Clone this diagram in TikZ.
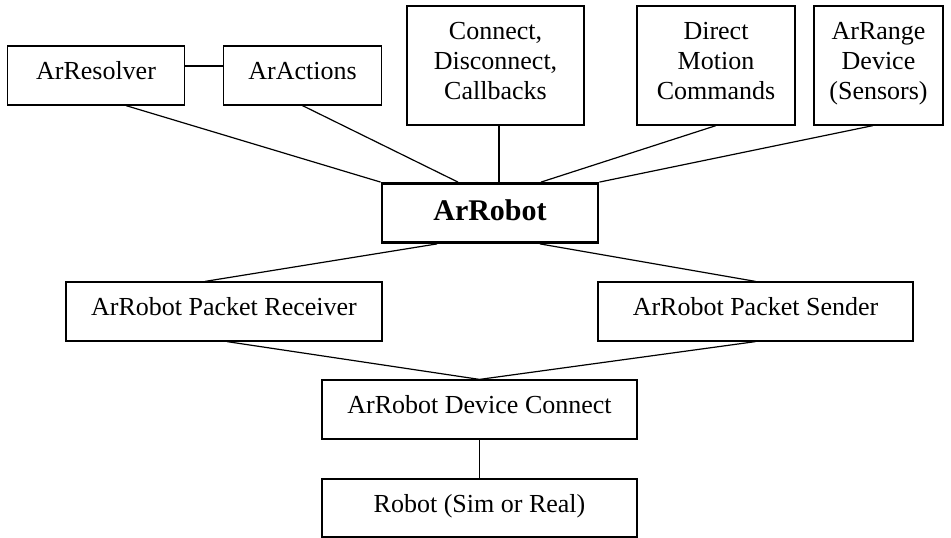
\documentclass[tikz,border=0pt]{standalone}
\usepackage{fontspec}
\setmainfont{Liberation Serif}
% three centred lines, baseline on the last one
\newcommand{\threelines}[3]{\begin{tabular}[b]{@{}c@{}}#1\\#2\\#3\end{tabular}}
\begin{document}
\begin{tikzpicture}[x=1pt,y=-1pt,
  box/.style={draw, line width=1.2pt, inner sep=0pt, align=center,
    font=\fontsize{26}{30}\selectfont},
  onerow/.style={text height=17pt, text depth=9pt},
  threerow/.style={text height=78pt, text depth=11pt},
  link/.style={line width=1.2pt}]
\useasboundingbox (0,0) rectangle (951,538);

% top row
\node[box, onerow, minimum width=177pt, minimum height=59pt] (resolver) at (96,75.5) {ArResolver};
\node[box, onerow, minimum width=158pt, minimum height=59pt] (actions) at (302.5,75.5) {ArActions};
\node[box, threerow, minimum width=177pt, minimum height=119pt] (connect) at (495.5,65.5) {\threelines{Connect,}{Disconnect,}{Callbacks}};
\node[box, threerow, minimum width=158pt, minimum height=119pt] (motion) at (716,65.5) {\threelines{Direct}{Motion}{Commands}};
\node[box, threerow, minimum width=129pt, minimum height=119pt] (range) at (878.5,65.5) {\threelines{ArRange}{Device}{(Sensors)}};

% core
\node[box, line width=2.8pt, minimum width=216pt, minimum height=59pt,
  font=\fontsize{30}{34}\selectfont\bfseries, text height=20pt, text depth=5pt] (robot) at (490,213) {ArRobot};

% packet layer
\node[box, onerow, minimum width=316pt, minimum height=59pt] (receiver) at (224,311.5) {ArRobot Packet Receiver};
\node[box, onerow, minimum width=315pt, minimum height=59pt] (sender) at (755.5,311.5) {ArRobot Packet Sender};

% device layer
\node[box, onerow, minimum width=315pt, minimum height=59pt] (device) at (479.5,409.5) {ArRobot Device Connect};
\node[box, onerow, minimum width=315pt, minimum height=58pt] (real) at (479.5,508) {Robot (Sim or Real)};

% connectors
\draw[link] ([yshift=9.5pt]resolver.east) -- ([yshift=9.5pt]actions.west);
\draw[link] ([xshift=30pt]resolver.south) -- (robot.north west);
\draw[link] (actions.south) -- ([xshift=-32pt]robot.north);
\draw[link] ([xshift=3.5pt]connect.south) -- ([xshift=9pt]robot.north);
\draw[link] (motion.south) -- ([xshift=51pt]robot.north);
\draw[link] ([xshift=-5.5pt]range.south) -- (robot.north east);
\draw[link] ([xshift=-53pt]robot.south) -- ([xshift=-19pt]receiver.north);
\draw[link] ([xshift=50pt]robot.south) -- (sender.north);
\draw[link] ([xshift=3pt]receiver.south) -- (device.north);
\draw[link] (sender.south) -- (device.north);
\draw[link] (device.south) -- (real.north);
\end{tikzpicture}
\end{document}
